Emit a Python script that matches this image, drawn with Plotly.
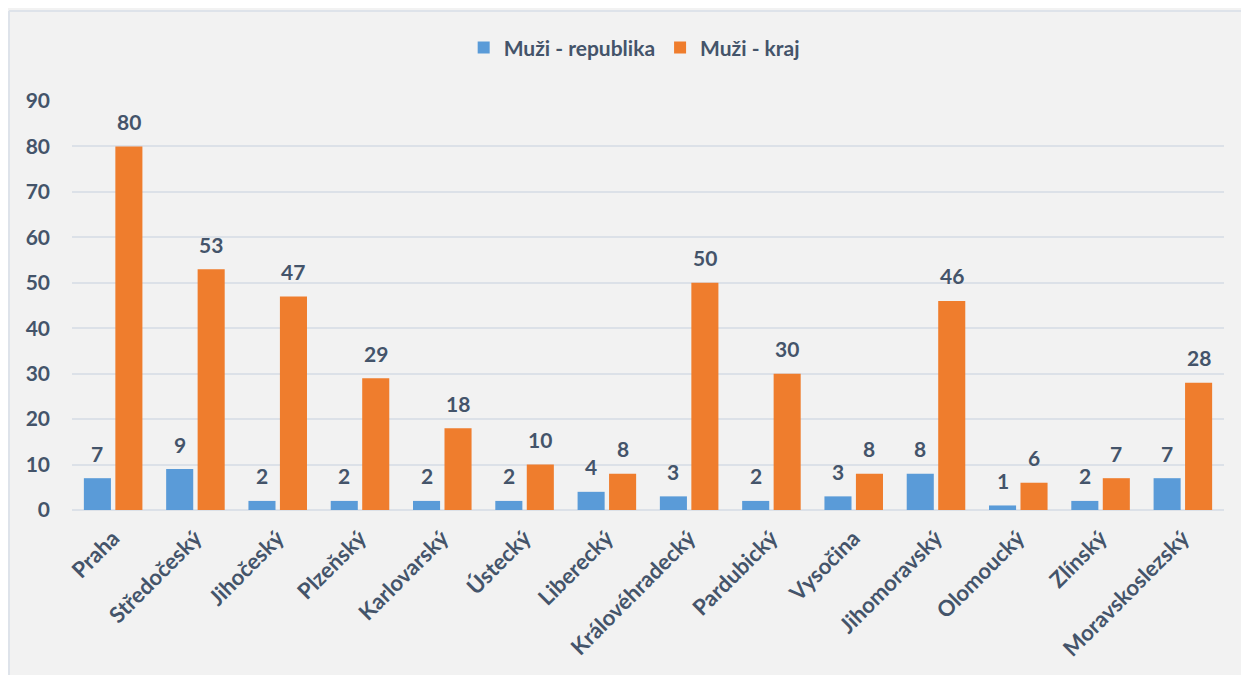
import plotly.graph_objects as go

kraje = ["Praha", "Středočeský", "Jihočeský", "Plzeňský", "Karlovarský", "Ústecký",
         "Liberecký", "Královéhradecký", "Pardubický", "Vysočina", "Jihomoravský",
         "Olomoucký", "Zlínský", "Moravskoslezský"]
muzi_republika = [7, 9, 2, 2, 2, 2, 4, 3, 2, 3, 8, 1, 2, 7]
muzi_kraj = [80, 53, 47, 29, 18, 10, 8, 50, 30, 8, 46, 6, 7, 28]
y_ticks = [0, 10, 20, 30, 40, 50, 60, 70, 80, 90]

txt = "#44546A"
font = "Lato"

fig = go.Figure()
fig.add_trace(go.Bar(x=kraje, y=muzi_republika, name="Muži - republika",
                     marker=dict(color="#5A9BD8", line=dict(width=0))))
fig.add_trace(go.Bar(x=kraje, y=muzi_kraj, name="Muži - kraj",
                     marker=dict(color="#EF7D2D", line=dict(width=0))))

# popisky hodnot nad sloupci
annotations = []
for values, shift in [(muzi_republika, -15.7), (muzi_kraj, 15.7)]:
    for k, v in zip(kraje, values):
        annotations.append(dict(x=k, y=v, xref="x", yref="y", text=str(v),
                                showarrow=False, xshift=shift, yshift=25,
                                yanchor="middle",
                                font=dict(size=21, color=txt, family=font, weight="bold")))

fig.update_layout(
    width=1241, height=667,
    paper_bgcolor="#F2F2F2", plot_bgcolor="#F2F2F2",
    margin=dict(l=64, r=25, t=93, b=165),
    barmode="group", bargap=0.235, bargroupgap=0.14,
    font=dict(family=font, color=txt, size=17),
    legend=dict(orientation="h", x=0.488, xanchor="center", y=1.13, yanchor="middle",
                font=dict(size=21, color=txt, family=font, weight="bold"),
                bgcolor="rgba(0,0,0,0)"),
    xaxis=dict(tickangle=-45, showgrid=False, showline=False, ticklabelstandoff=10,
               tickfont=dict(size=22, color=txt, family=font, weight="bold")),
    yaxis=dict(range=[0, 90], tickvals=y_ticks, gridcolor="#DCE1E8", gridwidth=1.5,
               zeroline=True, zerolinecolor="#DCE1E8", zerolinewidth=2,
               ticklabelstandoff=21,
               tickfont=dict(size=21, color=txt, family=font, weight="bold")),
    annotations=annotations,
    shapes=[
        dict(type="line", xref="paper", yref="paper", x0=-0.0547, x1=-0.0547,
             y0=-0.45, y1=1.22, line=dict(color="#DEE3EA", width=2)),
        dict(type="line", xref="paper", yref="paper", x0=-0.0547, x1=1.05,
             y0=1.22, y1=1.22, line=dict(color="#DEE3EA", width=2)),
    ],
)

fig.write_html("out.html")
